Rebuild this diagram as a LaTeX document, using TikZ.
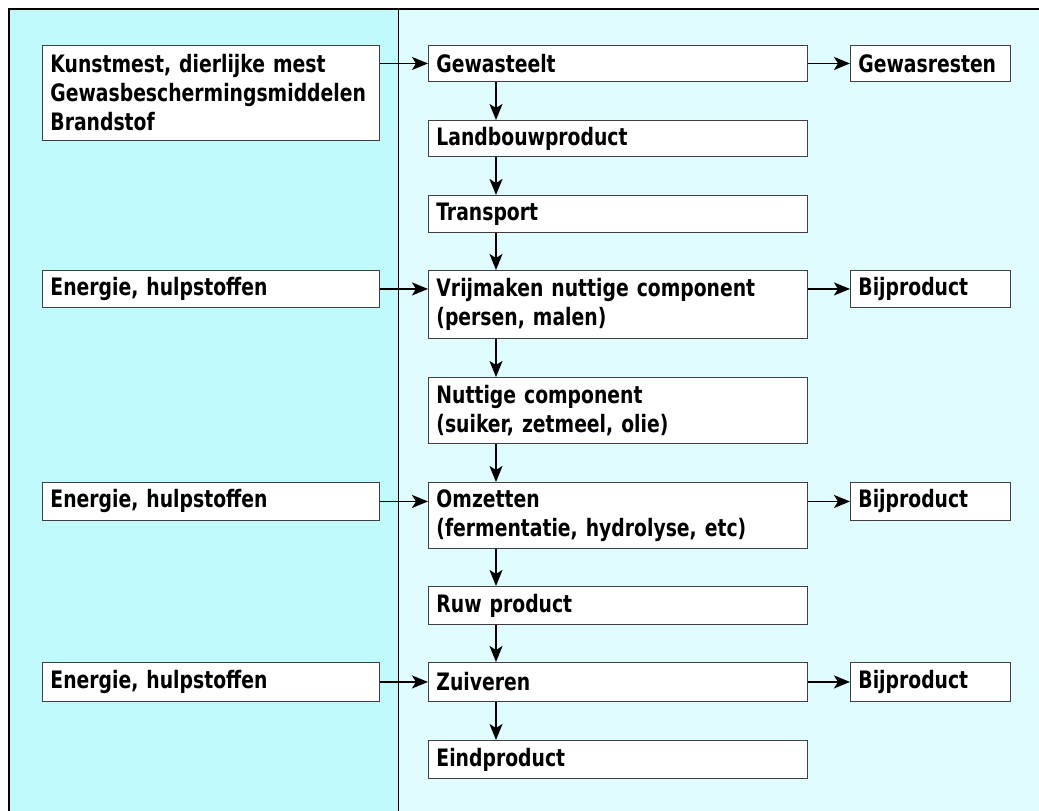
\documentclass[tikz,border=0pt]{standalone}
\usepackage{fontspec}
\setmainfont{DejaVu Sans Condensed}[FakeStretch=0.87]
\usetikzlibrary{arrows.meta}
\definecolor{leftbg}{HTML}{C0FAFC}
\definecolor{rightbg}{HTML}{E0FCFF}
\tikzset{%
  box/.style={%
    rectangle,%
    draw=black!75,%
    line width=0.9pt,%
    fill=white,%
    anchor=north west,%
    align=left,%
    inner xsep=8pt,%
    inner ysep=0pt,%
    font=\fontsize{24}{29}\selectfont\bfseries},
  proc/.style={box, text width=363pt},
  input/.style={box, text width=321pt},
  waste/.style={box, text width=144pt},
  flow/.style={-{Stealth[length=16pt,width=13pt,inset=4pt]}, line width=1.8pt}
}

\begin{document}
\begin{tikzpicture}[x=1pt,y=-1pt]
        \useasboundingbox (0,0) rectangle (1039,811);
        \fill[white] (0,0) rectangle (1039,811);
        \fill[leftbg] (9,9) rectangle (398,811);
        \fill[rightbg] (398,9) rectangle (1039,811);
        \draw[line width=0.9pt] (398,9) -- (398,811);
        \draw[line width=2.2pt] (9,811) -- (9,9) -- (1039,9);
        \node [input,minimum height=95pt] (kunst) at (42,45) {%
          Kunstmest, dierlijke mest\\%
          Gewasbeschermingsmiddelen\\%
          Brandstof};
        \node [input,minimum height=37pt] (en1) at (42,270) {Energie, hulpstoffen};
        \node [input,minimum height=38pt] (en2) at (42,482) {Energie, hulpstoffen};
        \node [input,minimum height=39pt] (en3) at (42,662) {Energie, hulpstoffen};
        \node [proc,minimum height=36pt] (gew) at (428,45) {Gewasteelt};
        \node [proc,minimum height=36pt] (land) at (428,120) {Landbouwproduct};
        \node [proc,minimum height=37pt] (trans) at (428,195) {Transport};
        \node [proc,minimum height=68pt] (vrij) at (428,270) {%
          Vrijmaken nuttige component\\%
          (persen, malen)};
        \node [proc,minimum height=66pt] (nut) at (428,377) {%
          Nuttige component\\%
          (suiker, zetmeel, olie)};
        \node [proc,minimum height=66pt] (omz) at (428,482) {%
          Omzetten\\%
          (fermentatie, hydrolyse, etc)};
        \node [proc,minimum height=38pt] (ruw) at (428,586) {Ruw product};
        \node [proc,minimum height=39pt] (zuiv) at (428,662) {Zuiveren};
        \node [proc,minimum height=38pt] (eind) at (428,740) {Eindproduct};
        \node [waste,minimum height=36pt] (rest) at (850,45) {Gewasresten};
        \node [waste,minimum height=37pt] (bij1) at (850,270) {Bijproduct};
        \node [waste,minimum height=38pt] (bij2) at (850,482) {Bijproduct};
        \node [waste,minimum height=39pt] (bij3) at (850,662) {Bijproduct};
        \draw [flow] (gew.west -| kunst.east) -- (gew.west);
        \draw [flow] (en1.east) -- (en1.east -| vrij.west);
        \draw [flow] (en2.east) -- (en2.east -| omz.west);
        \draw [flow] (en3.east) -- (zuiv.west);
        \draw [flow] (gew.east) -- (rest.west);
        \draw [flow] (bij1.west -| vrij.east) -- (bij1.west);
        \draw [flow] (bij2.west -| omz.east) -- (bij2.west);
        \draw [flow] (zuiv.east) -- (bij3.west);
        \draw [flow] ([xshift=68pt]gew.south west) -- ([xshift=68pt]land.north west);
        \draw [flow] ([xshift=68pt]land.south west) -- ([xshift=68pt]trans.north west);
        \draw [flow] ([xshift=68pt]trans.south west) -- ([xshift=68pt]vrij.north west);
        \draw [flow] ([xshift=68pt]vrij.south west) -- ([xshift=68pt]nut.north west);
        \draw [flow] ([xshift=68pt]nut.south west) -- ([xshift=68pt]omz.north west);
        \draw [flow] ([xshift=68pt]omz.south west) -- ([xshift=68pt]ruw.north west);
        \draw [flow] ([xshift=68pt]ruw.south west) -- ([xshift=68pt]zuiv.north west);
        \draw [flow] ([xshift=68pt]zuiv.south west) -- ([xshift=68pt]eind.north west);
      \end{tikzpicture}
\end{document}
